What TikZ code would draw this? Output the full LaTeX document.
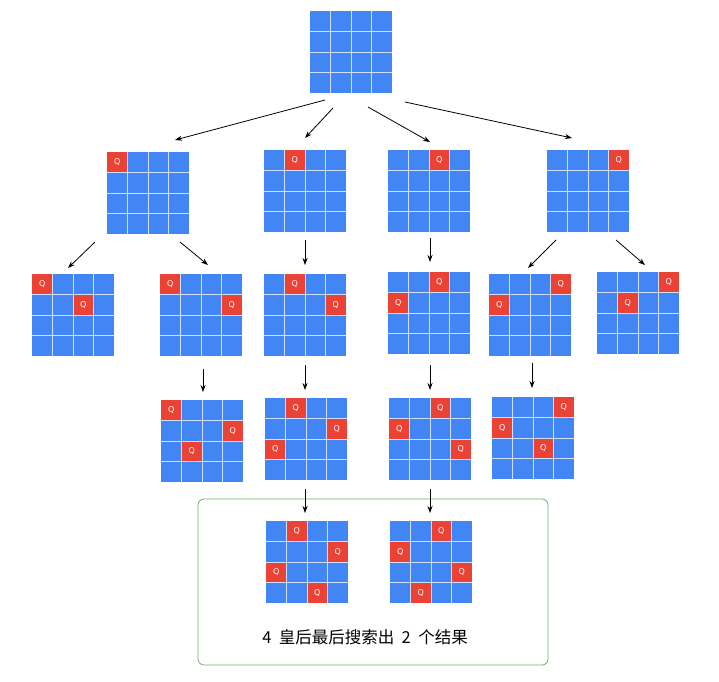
\documentclass[tikz,border=0pt]{standalone}
\usepackage{fontspec}
\usetikzlibrary{arrows.meta}
\newfontfamily\cjk{Noto Sans CJK SC}
\setsansfont{DejaVu Sans}
\definecolor{qblue}{HTML}{4285F4}
\definecolor{qred}{HTML}{EA4335}
\definecolor{qgreen}{HTML}{6AAF6A}
\tikzset{
  boardbox/.style={rectangle,fill=qblue,draw=none,minimum width=82pt,minimum height=82pt,inner sep=0pt},
  qcell/.style={fill=qred},
  qtext/.style={text=white,font=\sffamily\fontsize{8}{8}\selectfont},
  gridline/.style={white!75!qblue,line width=0.6pt},
  arr2/.style={-{Stealth[length=7pt,width=5pt]},line width=0.8pt,black}
}
\newcommand{\qboard}[4]{%
  \node[boardbox] (#1) at (#2+41,#3+41) {};
  \foreach \r/\c in {#4} {
    \fill[qcell] (#2+\c*20.5,#3+\r*20.5) rectangle ++(20.5,20.5);
    \node[qtext] at (#2+\c*20.5+10.25,#3+\r*20.5+10.25) {Q};
  }
  \foreach \k in {1,2,3} {
    \draw[gridline] (#2+\k*20.5,#3) -- ++(0,82);
    \draw[gridline] (#2,#3+\k*20.5) -- ++(82,0);
  }
}
\begin{document}
\begin{tikzpicture}[x=1pt,y=-1pt]
\useasboundingbox (0,0) rectangle (719,681);
\draw[qgreen,rounded corners=6pt,line width=0.8pt] (198,499) rectangle (548,665);
\node[boardbox] (top) at (351,52) {};
\foreach \k in {1,2,3} {
  \draw[gridline] (310+\k*20.5,11) -- ++(0,82);
  \draw[gridline] (310,11+\k*20.5) -- ++(82,0);
}
\qboard{A}{107}{152}{0/0}
\qboard{B}{264}{150}{0/1}
\qboard{C}{388}{150}{0/2}
\qboard{D}{547}{150}{0/3}
\qboard{a1}{32}{274}{0/0,1/2}
\qboard{a2}{160}{274}{0/0,1/3}
\qboard{b1}{264}{274}{0/1,1/3}
\qboard{c1}{388}{272}{0/2,1/0}
\qboard{d1}{489}{274}{0/3,1/0}
\qboard{d2}{597}{272}{0/3,1/1}
\qboard{a2x}{161}{400}{0/0,1/3,2/1}
\qboard{b1x}{265}{398}{0/1,1/3,2/0}
\qboard{c1x}{389}{398}{0/2,1/0,2/3}
\qboard{d1x}{492}{397}{0/3,1/0,2/2}
\qboard{r1}{266}{521}{0/1,1/3,2/0,3/2}
\qboard{r2}{390}{521}{0/2,1/0,2/3,3/1}
\coordinate (s1) at (325,100); \coordinate (e1) at (175,140);
\coordinate (s2) at (333,108); \coordinate (e2) at (305,138);
\coordinate (s3) at (368,107); \coordinate (e3) at (430,142);
\coordinate (s4) at (405,102); \coordinate (e4) at (572,138);
\coordinate (s5) at (95,242); \coordinate (e5) at (68,268);
\coordinate (s6) at (180,242); \coordinate (e6) at (208,265);
\coordinate (s7) at (305,240); \coordinate (e7) at (305,265);
\coordinate (s8) at (430,238); \coordinate (e8) at (430,262);
\coordinate (s9) at (556,240); \coordinate (e9) at (528,268);
\coordinate (s10) at (616,240); \coordinate (e10) at (645,265);
\coordinate (s11) at (203,369); \coordinate (e11) at (203,392);
\coordinate (s12) at (305,365); \coordinate (e12) at (305,390);
\coordinate (s13) at (430,365); \coordinate (e13) at (430,390);
\coordinate (s14) at (532,363); \coordinate (e14) at (532,388);
\coordinate (s15) at (305,489); \coordinate (e15) at (305,513);
\coordinate (s16) at (430,489); \coordinate (e16) at (430,513);
\foreach \i in {1,...,16} { \draw[arr2] (s\i) -- (e\i); }
\node[font=\cjk\fontsize{16.5}{16.5}\selectfont] (lbl) at (365,637) {4\ \ 皇后最后搜索出\ \ 2\ \ 个结果};
\end{tikzpicture}
\end{document}
